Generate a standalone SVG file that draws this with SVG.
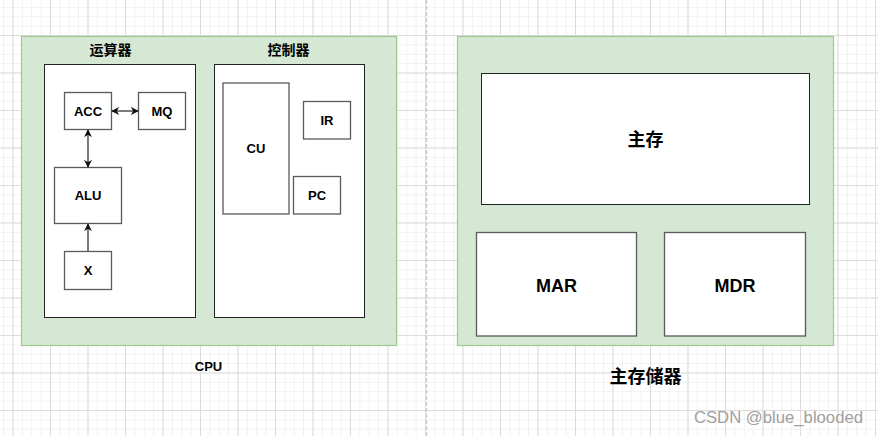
<svg xmlns="http://www.w3.org/2000/svg" width="878" height="436" viewBox="0 0 878 436">
<defs>
  <pattern id="minor" x="12.5" y="-2.5" width="9.375" height="9.375" patternUnits="userSpaceOnUse">
    <path d="M0 0.5 H9.375 M0.5 0 V9.375" stroke="#f1f1f1" stroke-width="1" fill="none"/>
  </pattern>
  <pattern id="major" x="12.5" y="-2.5" width="37.5" height="37.5" patternUnits="userSpaceOnUse">
    <path d="M0 0.5 H37.5 M0.5 0 V37.5" stroke="#dcdcdc" stroke-width="1" fill="none"/>
  </pattern>
  <marker id="ah" viewBox="0 0 10 10" refX="9" refY="5" markerWidth="8" markerHeight="8" orient="auto-start-reverse" markerUnits="userSpaceOnUse">
    <path d="M0 0 L10 5 L0 10 L3 5 Z" fill="#111"/>
  </marker>
</defs>
<style>
  .cont{fill:#d5e8d4;stroke:#9fc98a;stroke-width:1.2}
  .panel{fill:#fff;stroke:#222;stroke-width:1}
  .box{fill:#fff;stroke:#5a5a5a;stroke-width:1.3}
  .t{font-family:"Liberation Sans","Noto Sans CJK SC",Arial,sans-serif;font-weight:bold;fill:#000;text-anchor:middle;dominant-baseline:central}
  .s{font-size:13px}
  .c{font-size:14px}
  .l{font-size:18px}
  .edge{stroke:#333;stroke-width:1.3;fill:none}
</style>
<rect width="878" height="436" fill="#fff"/>
<rect width="878" height="436" fill="url(#minor)"/>
<rect width="878" height="436" fill="url(#major)"/>
<line x1="426.5" y1="0" x2="426.5" y2="436" stroke="#cfcfcf" stroke-width="1.5" stroke-dasharray="4 2"/>

<g id="cpu">
  <rect class="cont" x="21.5" y="36.5" width="375" height="309"/>
  <text class="t s" x="208.5" y="366">CPU</text>
</g>
<g id="alu-unit">
  <rect class="panel" x="44.5" y="64.5" width="151" height="253"/>
  <text class="t c" x="110.5" y="50">运算器</text>
</g>
<g id="ctrl-unit">
  <rect class="panel" x="214.5" y="64.5" width="150" height="253"/>
  <text class="t c" x="288.5" y="50">控制器</text>
</g>
<g id="acc">
  <rect class="box" x="64.5" y="92.5" width="47" height="37"/>
  <text class="t s" x="88" y="111">ACC</text>
</g>
<g id="mq">
  <rect class="box" x="138.5" y="92.5" width="47" height="37"/>
  <text class="t s" x="162" y="111">MQ</text>
</g>
<g id="alu">
  <rect class="box" x="54.5" y="167.5" width="67" height="56"/>
  <text class="t s" x="88" y="195.5">ALU</text>
</g>
<g id="x">
  <rect class="box" x="64.5" y="251.5" width="47" height="38"/>
  <text class="t s" x="88" y="270.5">X</text>
</g>
<g id="cu">
  <rect class="box" x="223" y="83" width="66" height="131"/>
  <text class="t s" x="256" y="148.5">CU</text>
</g>
<g id="ir">
  <rect class="box" x="303.5" y="101.5" width="47" height="37.5"/>
  <text class="t s" x="327" y="120">IR</text>
</g>
<g id="pc">
  <rect class="box" x="293.5" y="176.5" width="47" height="37.5"/>
  <text class="t s" x="317" y="195">PC</text>
</g>

<g id="memory">
  <rect class="cont" x="457.5" y="36.5" width="376" height="309"/>
  <text class="t l" x="645.5" y="377">主存储器</text>
</g>
<g id="main-mem">
  <rect class="panel" x="481.5" y="73.5" width="328" height="131"/>
  <text class="t l" x="645.5" y="139.5">主存</text>
</g>
<g id="mar">
  <rect class="box" x="476.5" y="232.5" width="160" height="103.5"/>
  <text class="t l" x="556.5" y="285.5">MAR</text>
</g>
<g id="mdr">
  <rect class="box" x="664.5" y="232.5" width="141" height="103.5"/>
  <text class="t l" x="735" y="285.5">MDR</text>
</g>

<g id="connectors">
  <line class="edge" x1="112" y1="111" x2="138" y2="111" marker-start="url(#ah)" marker-end="url(#ah)"/>
  <line class="edge" x1="88" y1="130" x2="88" y2="167" marker-start="url(#ah)" marker-end="url(#ah)"/>
  <line class="edge" x1="88" y1="251" x2="88" y2="224" marker-end="url(#ah)"/>
</g>

<text x="863" y="423" font-family="Liberation Sans,Arial,sans-serif" font-size="16.7" fill="#a0a0a0" text-anchor="end">CSDN @blue_blooded</text>
</svg>
